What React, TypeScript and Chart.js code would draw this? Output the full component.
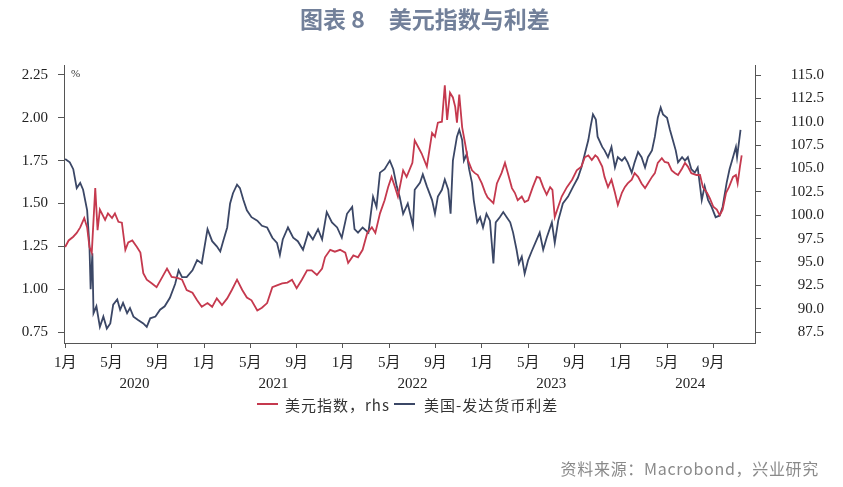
import React, { useEffect, useRef } from "react";
import { Chart, registerables } from "chart.js";

Chart.register(...registerables);

// x values are months since 1 Jan 2020
const SPREAD_X = [0, 0.4, 0.7, 1.0, 1.3, 1.55, 1.9, 2.1, 2.2, 2.35, 2.45, 2.7, 3.0, 3.3, 3.6, 3.9, 4.15, 4.5, 4.75, 5.0, 5.35, 5.6, 5.9, 6.3, 6.75, 7.05, 7.35, 7.8, 8.2, 8.6, 9.05, 9.5, 9.8, 10.1, 10.5, 11.0, 11.4, 11.8, 12.3, 12.7, 13.1, 13.4, 13.65, 14.0, 14.25, 14.5, 14.85, 15.1, 15.4, 15.7, 16.1, 16.6, 17.0, 17.45, 17.9, 18.3, 18.55, 18.8, 19.25, 19.7, 20.1, 20.55, 21.0, 21.4, 21.85, 22.2, 22.6, 23.05, 23.5, 23.9, 24.35, 24.8, 25.0, 25.3, 25.7, 26.2, 26.6, 26.9, 27.2, 27.6, 28.05, 28.35, 28.65, 28.9, 29.2, 29.6, 30.05, 30.2, 30.65, 30.9, 31.25, 31.7, 31.95, 32.2, 32.55, 32.8, 33.1, 33.3, 33.5, 33.85, 34.05, 34.3, 34.45, 34.7, 34.9, 35.15, 35.3, 35.6, 35.85, 36.1, 36.4, 36.7, 37.0, 37.2, 37.55, 37.85, 38.15, 38.45, 38.7, 39.0, 39.2, 39.45, 39.7, 40.0, 40.3, 40.75, 41.0, 41.3, 41.6, 42.05, 42.3, 42.6, 43.0, 43.45, 43.9, 44.3, 44.6, 44.9, 45.2, 45.4, 45.6, 45.85, 46.0, 46.4, 46.6, 46.9, 47.2, 47.5, 47.75, 48.1, 48.35, 48.6, 48.95, 49.2, 49.5, 49.8, 50.1, 50.35, 50.7, 50.95, 51.2, 51.45, 51.65, 52.0, 52.25, 52.5, 52.75, 52.95, 53.3, 53.55, 53.8, 54.1, 54.4, 54.65, 55.0, 55.25, 55.55, 55.85, 56.2, 56.55, 56.8, 57.15, 57.4, 57.7, 57.95, 58.05, 58.2, 58.35];
const SPREAD_Y = [1.76, 1.74, 1.70, 1.59, 1.62, 1.58, 1.46, 1.25, 1.00, 1.21, 0.86, 0.90, 0.78, 0.84, 0.77, 0.80, 0.91, 0.94, 0.88, 0.92, 0.86, 0.89, 0.84, 0.82, 0.80, 0.78, 0.83, 0.84, 0.88, 0.90, 0.95, 1.03, 1.11, 1.07, 1.07, 1.11, 1.17, 1.15, 1.35, 1.28, 1.25, 1.22, 1.28, 1.36, 1.50, 1.56, 1.61, 1.59, 1.52, 1.46, 1.42, 1.40, 1.37, 1.36, 1.30, 1.27, 1.20, 1.29, 1.36, 1.30, 1.28, 1.23, 1.33, 1.29, 1.35, 1.29, 1.45, 1.39, 1.36, 1.30, 1.44, 1.48, 1.35, 1.33, 1.36, 1.33, 1.54, 1.48, 1.68, 1.70, 1.75, 1.70, 1.60, 1.54, 1.44, 1.50, 1.37, 1.58, 1.62, 1.67, 1.60, 1.52, 1.44, 1.54, 1.58, 1.64, 1.58, 1.44, 1.75, 1.89, 1.93, 1.87, 1.75, 1.79, 1.70, 1.62, 1.52, 1.39, 1.42, 1.36, 1.44, 1.40, 1.15, 1.39, 1.42, 1.45, 1.42, 1.39, 1.33, 1.23, 1.15, 1.19, 1.09, 1.17, 1.22, 1.29, 1.33, 1.23, 1.30, 1.39, 1.27, 1.40, 1.50, 1.54, 1.60, 1.65, 1.71, 1.79, 1.87, 1.95, 2.02, 1.99, 1.89, 1.83, 1.81, 1.77, 1.83, 1.71, 1.77, 1.75, 1.77, 1.74, 1.68, 1.74, 1.80, 1.77, 1.71, 1.77, 1.81, 1.89, 2.00, 2.06, 2.02, 2.00, 1.93, 1.87, 1.81, 1.74, 1.77, 1.75, 1.77, 1.70, 1.68, 1.71, 1.52, 1.60, 1.52, 1.48, 1.42, 1.43, 1.48, 1.62, 1.70, 1.77, 1.83, 1.77, 1.85, 1.93];

const DXY_X = [0, 0.3, 0.7, 1.0, 1.3, 1.65, 1.9, 2.1, 2.3, 2.6, 2.8, 3.0, 3.45, 3.7, 4.05, 4.3, 4.6, 4.9, 5.2, 5.45, 5.8, 6.2, 6.5, 6.75, 7.05, 7.5, 7.9, 8.4, 8.8, 9.2, 9.7, 10.1, 10.5, 11.0, 11.4, 11.8, 12.3, 12.7, 13.1, 13.55, 14.0, 14.4, 14.85, 15.3, 15.7, 16.1, 16.6, 17.0, 17.45, 17.9, 18.3, 18.75, 19.2, 19.6, 20.0, 20.45, 20.9, 21.3, 21.75, 22.2, 22.45, 22.9, 23.3, 23.75, 24.2, 24.45, 24.9, 25.3, 25.7, 26.1, 26.5, 26.8, 27.2, 27.6, 27.9, 28.2, 28.5, 28.75, 29.2, 29.5, 30.0, 30.2, 30.5, 30.8, 31.25, 31.7, 31.95, 32.2, 32.55, 32.8, 33.0, 33.25, 33.5, 33.7, 33.85, 34.05, 34.3, 34.55, 34.8, 35.15, 35.4, 35.65, 36.0, 36.3, 36.5, 37.0, 37.3, 37.7, 38.0, 38.25, 38.6, 38.85, 39.1, 39.45, 39.7, 40.0, 40.4, 40.75, 41.0, 41.3, 41.6, 41.9, 42.1, 42.3, 42.6, 42.9, 43.35, 43.8, 44.2, 44.6, 44.9, 45.2, 45.5, 45.8, 46.0, 46.4, 46.6, 46.9, 47.2, 47.5, 47.75, 48.1, 48.35, 48.6, 48.95, 49.2, 49.5, 49.8, 50.1, 50.35, 50.7, 50.95, 51.2, 51.55, 51.8, 52.1, 52.4, 52.7, 52.95, 53.3, 53.55, 53.8, 54.1, 54.55, 54.85, 55.1, 55.45, 55.7, 56.0, 56.3, 56.55, 56.8, 57.1, 57.35, 57.7, 57.95, 58.1, 58.3, 58.45];
const DXY_Y = [96.6, 97.3, 97.7, 98.1, 98.7, 99.7, 98.7, 96.6, 96.0, 102.9, 98.4, 100.6, 99.5, 100.2, 99.7, 100.2, 99.3, 99.2, 96.3, 97.1, 97.3, 96.6, 96.0, 93.8, 93.1, 92.7, 92.3, 93.4, 94.3, 93.4, 93.3, 93.1, 92.0, 91.7, 90.9, 90.2, 90.6, 90.2, 91.1, 90.4, 91.1, 92.0, 93.1, 92.0, 91.2, 90.9, 89.8, 90.1, 90.6, 92.3, 92.5, 92.7, 92.8, 93.1, 92.2, 93.1, 94.1, 94.1, 93.6, 94.3, 95.5, 96.3, 96.1, 96.3, 96.0, 94.9, 95.7, 95.5, 96.3, 98.1, 98.7, 98.1, 100.2, 101.6, 103.0, 104.1, 103.0, 102.0, 104.8, 104.1, 105.6, 108.0, 107.3, 106.6, 105.2, 108.8, 108.4, 109.9, 110.0, 113.9, 110.2, 113.1, 112.6, 111.6, 109.9, 112.9, 109.4, 107.7, 105.9, 104.8, 104.5, 104.3, 103.4, 102.4, 101.9, 101.3, 103.4, 104.5, 105.6, 104.5, 102.9, 102.4, 101.6, 102.0, 101.4, 101.6, 103.0, 104.1, 104.0, 103.0, 102.2, 103.0, 102.7, 99.8, 100.9, 102.0, 103.0, 103.8, 104.8, 105.2, 106.2, 106.4, 105.9, 106.4, 106.2, 105.2, 104.1, 103.0, 103.8, 102.4, 101.1, 102.4, 103.0, 103.4, 103.8, 104.5, 104.1, 103.4, 102.9, 103.4, 104.1, 104.5, 105.6, 106.1, 105.7, 105.6, 104.8, 104.5, 104.3, 105.0, 105.6, 105.2, 104.5, 104.3, 104.3, 103.0, 102.4, 101.8, 100.9, 100.6, 100.0, 100.6, 102.4, 103.0, 104.1, 104.3, 103.4, 105.2, 106.4];

const LEFT_TICKS = [0.75, 1.0, 1.25, 1.5, 1.75, 2.0, 2.25];
const RIGHT_TICKS = [87.5, 90, 92.5, 95, 97.5, 100, 102.5, 105, 107.5, 110, 112.5, 115];
const MONTH_TICKS = [0, 4, 8, 12, 16, 20, 24, 28, 32, 36, 40, 44, 48, 52, 56];
const YEAR_TICKS = [6, 18, 30, 42, 54];
const YEAR_LABELS = ["2020", "2021", "2022", "2023", "2024"];

const SERIES_NAMES = ["美元指数，rhs", "美国-发达货币利差"];
const COLORS = ["#c5394e", "#3b4766"];

const X_MIN = -0.1;
const X_MAX = 59.6;

const AXIS_COLOR = "#555555";
const TICK_FONT = { family: "'Liberation Serif', 'Noto Sans CJK SC', serif", size: 15 };

const percentPlugin = {
  id: "percentLabel",
  afterDraw(chart: any) {
    const { ctx, chartArea } = chart;
    ctx.save();
    ctx.font = "11px 'Liberation Serif', serif";
    ctx.fillStyle = "#333";
    ctx.textBaseline = "middle";
    ctx.fillText("%", chartArea.left + 7, chartArea.top + 9);
    ctx.restore();
  },
};

export default function App() {
  const ref = useRef<HTMLCanvasElement | null>(null);

  useEffect(() => {
    if (!ref.current) return;
    const chart = new Chart(ref.current, {
      type: "line",
      data: {
        datasets: [
          {
            label: SERIES_NAMES[0],
            data: DXY_X.map((x, i) => ({ x, y: DXY_Y[i] })),
            borderColor: COLORS[0],
            backgroundColor: COLORS[0],
            borderWidth: 1.8,
            pointRadius: 0,
            tension: 0,
            xAxisID: "x",
            yAxisID: "y1",
          },
          {
            label: SERIES_NAMES[1],
            data: SPREAD_X.map((x, i) => ({ x, y: SPREAD_Y[i] })),
            borderColor: COLORS[1],
            backgroundColor: COLORS[1],
            borderWidth: 1.8,
            pointRadius: 0,
            tension: 0,
            xAxisID: "x",
            yAxisID: "y",
          },
        ],
      },
      options: {
        responsive: false,
        animation: false,
        events: [],
        layout: { padding: { top: 65, bottom: 82, left: 0, right: 19 } },
        plugins: { legend: { display: false }, tooltip: { enabled: false }, title: { display: false } },
        scales: {
          x: {
            type: "linear",
            position: "bottom",
            weight: 0,
            min: X_MIN,
            max: X_MAX,
            afterBuildTicks: (s: any) => {
              s.ticks = MONTH_TICKS.map((v) => ({ value: v }));
            },
            afterFit: (s: any) => {
              s.height = 32;
            },
            ticks: {
              autoSkip: false,
              maxRotation: 0,
              padding: 6,
              color: "#222",
              font: TICK_FONT,
              callback: (v: any) => `${(Number(v) % 12) + 1}月`,
            },
            grid: { display: true, drawOnChartArea: false, drawTicks: true, tickLength: 5, color: AXIS_COLOR },
            border: { display: true, color: AXIS_COLOR, width: 1 },
          },
          xYear: {
            type: "linear",
            position: "bottom",
            weight: 1,
            min: X_MIN,
            max: X_MAX,
            afterBuildTicks: (s: any) => {
              s.ticks = YEAR_TICKS.map((v) => ({ value: v }));
            },
            afterFit: (s: any) => {
              s.height = 30;
            },
            ticks: {
              autoSkip: false,
              maxRotation: 0,
              padding: 0,
              color: "#222",
              font: TICK_FONT,
              callback: (v: any) => YEAR_LABELS[YEAR_TICKS.indexOf(Number(v))] ?? "",
            },
            grid: { display: false, drawTicks: false, tickLength: 0 },
            border: { display: false },
          },
          y: {
            type: "linear",
            position: "left",
            min: 0.686,
            max: 2.308,
            afterBuildTicks: (s: any) => {
              s.ticks = LEFT_TICKS.map((v) => ({ value: v }));
            },
            afterFit: (s: any) => {
              s.width = 64;
            },
            ticks: {
              padding: 10,
              color: "#222",
              font: TICK_FONT,
              callback: (v: any) => Number(v).toFixed(2),
            },
            grid: { display: true, drawOnChartArea: false, drawTicks: true, tickLength: 6, color: AXIS_COLOR },
            border: { display: true, color: AXIS_COLOR, width: 1 },
          },
          y1: {
            type: "linear",
            position: "right",
            min: 86.33,
            max: 116.07,
            afterBuildTicks: (s: any) => {
              s.ticks = RIGHT_TICKS.map((v) => ({ value: v }));
            },
            afterFit: (s: any) => {
              s.width = 69;
            },
            ticks: {
              padding: 10,
              crossAlign: "far",
              color: "#222",
              font: TICK_FONT,
              callback: (v: any) => Number(v).toFixed(1),
            },
            grid: { display: true, drawOnChartArea: false, drawTicks: true, tickLength: 6, color: AXIS_COLOR },
            border: { display: true, color: AXIS_COLOR, width: 1 },
          },
        },
      } as any,
      plugins: [percentPlugin],
    });
    return () => chart.destroy();
  }, []);

  const legendText: React.CSSProperties = {
    fontFamily: "'Noto Sans CJK SC', sans-serif",
    fontSize: 15,
    letterSpacing: 1,
    color: "#333",
    whiteSpace: "nowrap",
  };
  const legendLine = (c: string): React.CSSProperties => ({
    width: 21,
    height: 2,
    background: c,
    display: "inline-block",
  });

  return (
    <div style={{ position: "fixed", left: 0, top: 0, width: 843, height: 487, background: "#fff", overflow: "hidden" }}>
      <canvas ref={ref} width={843} height={487} style={{ position: "absolute", left: 0, top: 0, width: 843, height: 487 }} />
      <div
        style={{
          position: "absolute",
          left: 300,
          top: 3,
          fontFamily: "'Noto Sans CJK SC', sans-serif",
          fontWeight: 700,
          fontSize: 23,
          color: "#72809a",
          whiteSpace: "nowrap",
          lineHeight: "30px",
        }}
      >
        <span>图表 8</span>
        <span style={{ marginLeft: 24 }}>美元指数与利差</span>
      </div>
      <div style={{ position: "absolute", left: 257, top: 392, display: "flex", alignItems: "center", height: 24 }}>
        <span style={legendLine(COLORS[0])} />
        <span style={{ ...legendText, marginLeft: 7 }}>{SERIES_NAMES[0]}</span>
        <span style={{ ...legendLine(COLORS[1]), marginLeft: 4 }} />
        <span style={{ ...legendText, marginLeft: 9 }}>{SERIES_NAMES[1]}</span>
      </div>
      <div
        style={{
          position: "absolute",
          right: 24,
          top: 456,
          fontFamily: "'Noto Sans CJK SC', sans-serif",
          fontSize: 16,
          letterSpacing: 0.7,
          color: "#8a8a8a",
          whiteSpace: "nowrap",
          lineHeight: "24px",
        }}
      >
        资料来源：Macrobond，兴业研究
      </div>
    </div>
  );
}
